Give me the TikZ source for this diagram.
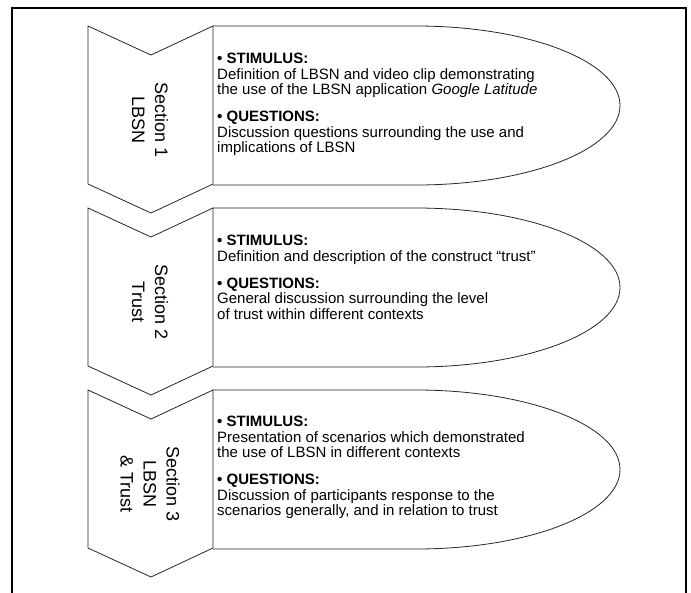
\documentclass[tikz,border=0pt]{standalone}
\usepackage{fontspec}
\setmainfont{Liberation Sans}
\usetikzlibrary{calc,positioning}

\begin{document}
\begin{tikzpicture}[x=1pt,y=-1pt]
		\tikzstyle{frame}=[line width=2.6pt,draw=black]
		\tikzstyle{outline}=[line width=0.8pt,draw=black!85]
		\tikzstyle{section}=[rotate=-90,align=center,inner sep=0pt,font=\fontsize{18}{23}\selectfont]
		\tikzstyle{content}=[anchor=north west,align=left,inner sep=0pt,font=\fontsize{15}{15.5}\selectfont]
		
		\useasboundingbox (0,0) rectangle (691,592);
		\draw[frame] (12,600) -- (12,8) -- (686,8) -- (686,600);
		
		\foreach \t/\n/\lbl in {26/1/{Section 1\\LBSN},208/2/{Section 2\\Trust},390/3/{Section 3\\LBSN\\\& Trust}} {
			\draw[outline] (88,\t) -- (151,\t+29) -- (213,\t) -- (213,\t+158) -- (151,\t+187) -- (88,\t+158) -- cycle;
			\draw[outline] (213,\t) -- (416,\t) arc[start angle=90,end angle=-90,x radius=204pt,y radius=79.5pt] -- (213,\t+159);
			\node[section] (label\n) at (150,\t+94) {\lbl};
		}
		
		\node[content] (text1) at (217,53) {\textbf{\textbullet\ STIMULUS:}\\Definition of LBSN and video clip demonstrating\\the use of the LBSN application \textit{Google Latitude}\\[11.5pt]\textbf{\textbullet\ QUESTIONS:}\\Discussion questions surrounding the use and\\implications of LBSN};
		\node[content] (text2) at (217,235) {\textbf{\textbullet\ STIMULUS:}\\Definition and description of the construct ``trust''\\[11.5pt]\textbf{\textbullet\ QUESTIONS:}\\General discussion surrounding the level\\of trust within different contexts};
		\node[content] (text3) at (217,416) {\textbf{\textbullet\ STIMULUS:}\\Presentation of scenarios which demonstrated\\the use of LBSN in different contexts\\[11.5pt]\textbf{\textbullet\ QUESTIONS:}\\Discussion of participants response to the\\scenarios generally, and in relation to trust};
		
	\end{tikzpicture}
\end{document}
